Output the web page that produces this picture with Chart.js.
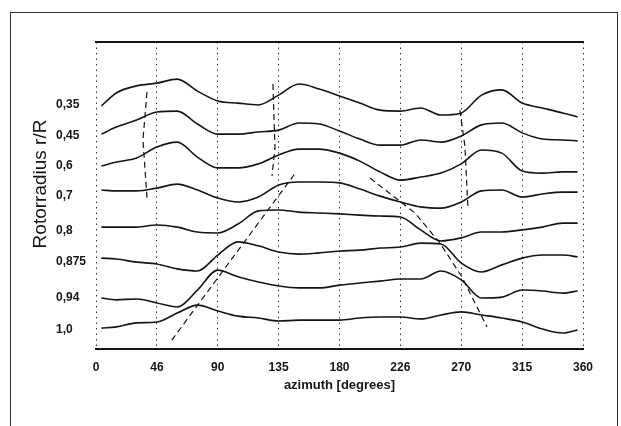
<!DOCTYPE html>
<html>
<head>
<meta charset="utf-8">
<script src="https://cdn.jsdelivr.net/npm/chart.js@4.4.1/dist/chart.umd.min.js"></script>
<style>
  html, body { margin: 0; padding: 0; background: #fff; }
  #wrap { position: relative; width: 621px; height: 426px; overflow: hidden; }
  #myChart { position: absolute; left: 0; top: 0; }
  #frame { position: absolute; left: 10px; top: 12px; width: 606px; height: 430px;
           border: 1.5px solid #333; border-bottom: none; pointer-events: none; }
</style>
</head>
<body>
<div id="wrap">
  <canvas id="myChart" width="621" height="426"></canvas>
  <div id="frame"></div>
</div>
<script>
// azimuth sample points (degrees)
const azimuth = [4, 15, 30, 45, 60, 75, 90, 105, 120, 135, 150, 165, 180,
  195, 210, 225, 240, 255, 270, 285, 300, 315, 330, 345, 356];

// traces, each one drawn at its own offset on the plot
const r035 = [7.92, 8.34, 8.57, 8.66, 8.79, 8.40, 8.08, 8.01, 7.95, 8.27, 8.63, 8.47, 8.24,
  8.01, 7.78, 7.75, 7.85, 7.62, 7.69, 8.27, 8.44, 8.01, 7.85, 7.69, 7.56];
const r045 = [7.00, 7.23, 7.46, 7.72, 7.75, 7.33, 7.00, 7.00, 7.07, 7.13, 7.36, 7.33, 7.10,
  6.84, 6.64, 6.64, 6.81, 6.74, 6.94, 7.30, 7.36, 7.04, 6.84, 6.81, 6.78];
const r06 = [5.96, 6.09, 6.22, 6.58, 6.74, 6.25, 5.90, 5.90, 6.03, 6.32, 6.51, 6.51, 6.38,
  6.12, 5.77, 5.50, 5.60, 5.73, 6.03, 6.48, 6.38, 5.80, 5.73, 5.77, 5.77];
const r07 = [5.18, 5.15, 5.15, 5.24, 5.37, 5.18, 4.92, 4.79, 4.95, 5.34, 5.44, 5.44, 5.41,
  5.21, 4.98, 4.79, 4.63, 4.59, 4.79, 5.15, 5.18, 4.95, 5.05, 5.11, 5.11];
const r08 = [3.97, 3.97, 3.97, 4.04, 3.97, 3.81, 3.78, 4.07, 4.50, 4.53, 4.46, 4.43, 4.40,
  4.36, 4.33, 4.30, 3.88, 3.52, 3.62, 3.81, 3.81, 3.88, 3.97, 4.10, 4.10];
const r0875 = [2.96, 2.93, 2.83, 2.77, 2.61, 2.54, 3.06, 3.49, 3.36, 3.16, 3.09, 3.13, 3.19,
  3.22, 3.29, 3.32, 3.45, 3.42, 2.80, 2.51, 2.74, 2.96, 3.06, 3.06, 3.00];
const r094 = [1.66, 1.60, 1.63, 1.50, 1.37, 1.92, 2.57, 2.35, 2.18, 2.05, 1.99, 1.99, 2.08,
  2.15, 2.21, 2.28, 2.28, 2.54, 2.25, 1.66, 1.69, 1.92, 1.89, 1.82, 1.89];
const r10 = [0.68, 0.72, 0.85, 0.88, 1.17, 1.43, 1.24, 1.07, 1.01, 0.91, 0.94, 0.94, 0.94,
  1.01, 1.04, 1.04, 0.98, 1.11, 1.21, 1.11, 1.01, 0.88, 0.65, 0.52, 0.62];

// dashed guide lines (azimuth, offset)
const guideAAz = [56, 148];
const guideAVal = [0.29, 5.77];
const guideBAz = [202.5, 235.8, 254.3, 270.5, 289];
const guideBVal = [5.57, 4.43, 3.45, 2.35, 0.72];
const guideCAz = [37.7, 34.7, 37.7];
const guideCVal = [8.37, 6.81, 4.92];
const guideDAz = [130.8, 132.3, 130.1];
const guideDVal = [8.63, 6.55, 5.64];
const guideEAz = [269, 272.7, 274.9];
const guideEVal = [7.78, 6.61, 4.63];

// axis labels
const xTickLabels = ['0', '46', '90', '135', '180', '226', '270', '315', '360'];
const yTickLabels = ['0,35', '0,45', '0,6', '0,7', '0,8', '0,875', '0,94', '1,0'];
const yTickPos = [7.95, 6.94, 5.96, 4.98, 3.84, 2.83, 1.66, 0.62];

const ink = '#151515';
const tickFont = { family: '"Liberation Sans", Arial, sans-serif', size: 12, weight: 'bold' };

const toPoints = (xs, ys) => xs.map((x, i) => ({ x, y: ys[i] }));

const traces = [r035, r045, r06, r07, r08, r0875, r094, r10].map((vals, i) => ({
  label: yTickLabels[i],
  data: toPoints(azimuth, vals),
  borderColor: ink,
  borderWidth: 1.6,
  pointRadius: 0,
  cubicInterpolationMode: 'monotone',
}));

const guides = [
  [guideAAz, guideAVal], [guideBAz, guideBVal], [guideCAz, guideCVal],
  [guideDAz, guideDVal], [guideEAz, guideEVal],
].map(([xs, ys]) => ({
  label: 'guide',
  data: toPoints(xs, ys),
  borderColor: ink,
  borderWidth: 1.2,
  borderDash: [6, 4],
  pointRadius: 0,
  tension: 0,
}));

const yTitle = {
  id: 'yTitle',
  afterDraw(c) {
    const ctx = c.ctx;
    ctx.save();
    ctx.translate(41, 184);
    ctx.rotate(-Math.PI / 2);
    ctx.font = '19px "Liberation Sans", Arial, sans-serif';
    ctx.fillStyle = ink;
    ctx.textAlign = 'center';
    ctx.textBaseline = 'middle';
    ctx.fillText('Rotorradius r/R', 0, 0);
    ctx.restore();
  },
};

const ctx = document.getElementById('myChart').getContext('2d');
new Chart(ctx, {
  type: 'line',
  data: { datasets: [...traces, ...guides] },
  options: {
    responsive: false,
    animation: false,
    layout: { padding: { left: 56, top: 42, right: 38, bottom: 33 } },
    plugins: { legend: { display: false }, tooltip: { enabled: false } },
    scales: {
      x: {
        type: 'linear',
        min: 0,
        max: 360,
        afterFit: (s) => { s.height = 44; },
        ticks: {
          stepSize: 45,
          padding: 11,
          color: ink,
          font: tickFont,
          maxRotation: 0,
          callback: (v, i) => xTickLabels[i],
        },
        grid: { color: '#333', lineWidth: 1, drawTicks: false },
        border: { display: true, color: ink, width: 2, dash: [1.5, 4] },
        title: {
          display: true,
          text: 'azimuth [degrees]',
          color: ink,
          font: { family: '"Liberation Sans", Arial, sans-serif', size: 13, weight: 'bold' },
          padding: 0,
        },
      },
      x2: {
        type: 'linear',
        position: 'top',
        min: 0,
        max: 360,
        afterFit: (s) => { s.height = 0; },
        ticks: { display: false },
        grid: { display: false },
        border: { display: true, color: ink, width: 2 },
      },
      y: {
        type: 'linear',
        min: 0,
        max: 10,
        afterFit: (s) => { s.width = 40; },
        afterBuildTicks: (s) => { s.ticks = yTickPos.map((v) => ({ value: v })); },
        ticks: {
          crossAlign: 'far',
          color: ink,
          font: { family: '"Liberation Sans", Arial, sans-serif', size: 12, weight: 'bold' },
          callback: (v, i) => yTickLabels[i],
        },
        grid: { display: false },
        border: { display: false },
      },
    },
  },
  plugins: [yTitle],
});
</script>
</body>
</html>
